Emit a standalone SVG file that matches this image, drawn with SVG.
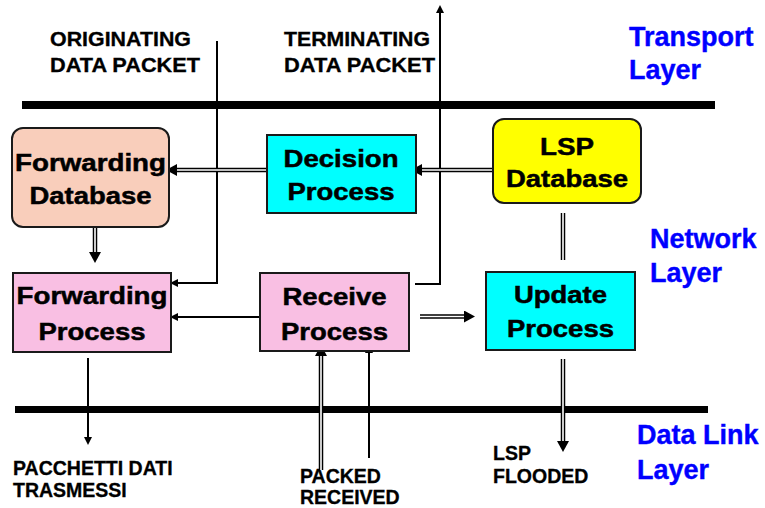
<svg xmlns="http://www.w3.org/2000/svg" width="765" height="508" viewBox="0 0 765 508">
<style>
  .box { stroke:#1a1a1a; stroke-width:2; }
  .nt { font-family:"Liberation Sans", Arial, sans-serif; font-weight:bold; font-size:24px; fill:#000; stroke:#000; stroke-width:0.5; text-anchor:middle; }
  .lbl { font-family:"Liberation Sans", Arial, sans-serif; font-weight:bold; font-size:19.5px; fill:#000; stroke:#000; stroke-width:0.3; }
  .layer { font-family:"Liberation Sans", Arial, sans-serif; font-weight:bold; font-size:27px; fill:#0000FF; stroke:#0000FF; stroke-width:0.4; }
  .bar { stroke:#000; stroke-width:8; }
  .single { fill:none; stroke:#000; stroke-width:2; }
  .dout { fill:none; stroke:#000; stroke-width:4.5; }
  .din { fill:none; stroke:#fff; stroke-width:1.6; }
</style>
<defs>
  <marker id="ahs" markerUnits="userSpaceOnUse" markerWidth="10" markerHeight="8" refX="0" refY="4" orient="auto">
    <path d="M0,0 L8,4 L0,8 z" fill="#000"/>
  </marker>
  <marker id="ahb" markerUnits="userSpaceOnUse" markerWidth="13" markerHeight="12" refX="0" refY="6" orient="auto">
    <path d="M0,0 L11,6 L0,12 z" fill="#000"/>
  </marker>
</defs>
<rect width="765" height="508" fill="#fff"/>

<g id="layers">
  <line class="bar" x1="22" y1="105" x2="715" y2="105"/>
  <line class="bar" x1="15" y1="409.5" x2="708" y2="409.5" style="stroke-width:7"/>
  <text class="layer" x="629" y="46">Transport</text>
  <text class="layer" x="629" y="79">Layer</text>
  <text class="layer" x="650" y="248">Network</text>
  <text class="layer" x="650" y="282">Layer</text>
  <text class="layer" x="637" y="444">Data Link</text>
  <text class="layer" x="637" y="479">Layer</text>
</g>

<g id="labels">
  <text class="lbl" x="50" y="46" textLength="141" lengthAdjust="spacingAndGlyphs">ORIGINATING</text>
  <text class="lbl" x="50" y="72" textLength="150" lengthAdjust="spacingAndGlyphs">DATA PACKET</text>
  <text class="lbl" x="284" y="46" textLength="146" lengthAdjust="spacingAndGlyphs">TERMINATING</text>
  <text class="lbl" x="284" y="72" textLength="151" lengthAdjust="spacingAndGlyphs">DATA PACKET</text>
  <text class="lbl" x="13" y="475">PACCHETTI DATI</text>
  <text class="lbl" x="13" y="497">TRASMESSI</text>
  <text class="lbl" x="300" y="483">PACKED</text>
  <text class="lbl" x="300" y="504">RECEIVED</text>
  <text class="lbl" x="493" y="460">LSP</text>
  <text class="lbl" x="493" y="483">FLOODED</text>
</g>

<g id="connectors">
  <!-- originating data packet -> forwarding process -->
  <path class="single" d="M217,41 V283 H178" marker-end="url(#ahs)"/>
  <!-- receive process -> terminating data packet -->
  <path class="single" d="M415,284 H440 V13" marker-end="url(#ahs)"/>
  <!-- receive -> forwarding process -->
  <path class="single" d="M264,317 H178" marker-end="url(#ahs)"/>
  <!-- forwarding process -> pacchetti -->
  <path class="single" d="M88,358 V437" marker-end="url(#ahs)"/>
  <!-- packed received (single) -->
  <path class="single" d="M369,458 V353" marker-end="url(#ahs)"/>

  <!-- LSP DB -> Decision -->
  <path class="dout" d="M493,170 H422" marker-end="url(#ahb)"/>
  <path class="din" d="M493,170 H422"/>
  <!-- Decision -> Forwarding DB -->
  <path class="dout" d="M274,170 H177" marker-end="url(#ahb)"/>
  <path class="din" d="M274,170 H177"/>
  <!-- Forwarding DB -> Forwarding Process -->
  <path class="dout" d="M95,228 V252" marker-end="url(#ahb)"/>
  <path class="din" d="M95,228 V252"/>
  <!-- Receive -> Update -->
  <path class="dout" d="M420,316.5 H464" marker-end="url(#ahb)"/>
  <path class="din" d="M420,316.5 H464"/>
  <!-- LSP DB - Update -->
  <path class="dout" d="M563,213 V260"/>
  <path class="din" d="M563,213 V260"/>
  <!-- Update -> LSP flooded -->
  <path class="dout" d="M563,359 V441" marker-end="url(#ahb)"/>
  <path class="din" d="M563,359 V441"/>
  <!-- packed received -> receive -->
  <path class="dout" d="M321,470 V356" marker-end="url(#ahb)"/>
  <path class="din" d="M321,470 V356"/>
</g>

<g id="forwarding-database">
  <rect class="box" x="12" y="128" width="157" height="99" rx="11" fill="#F9CEBB"/>
  <text class="nt" x="90.5" y="171" textLength="151" lengthAdjust="spacingAndGlyphs">Forwarding</text>
  <text class="nt" x="90.5" y="204" textLength="122" lengthAdjust="spacingAndGlyphs">Database</text>
</g>

<g id="decision-process">
  <rect class="box" x="267" y="135" width="149" height="78" fill="#00FFFF"/>
  <text class="nt" x="341" y="167" textLength="115" lengthAdjust="spacingAndGlyphs">Decision</text>
  <text class="nt" x="341" y="200" textLength="107" lengthAdjust="spacingAndGlyphs">Process</text>
</g>

<g id="lsp-database">
  <rect class="box" x="493" y="119" width="148" height="84" rx="11" fill="#FFFF00"/>
  <text class="nt" x="567" y="155" textLength="54" lengthAdjust="spacingAndGlyphs">LSP</text>
  <text class="nt" x="567" y="187" textLength="122" lengthAdjust="spacingAndGlyphs">Database</text>
</g>

<g id="forwarding-process">
  <rect class="box" x="13" y="273" width="158" height="79" fill="#F9BFE3"/>
  <text class="nt" x="92" y="304" textLength="151" lengthAdjust="spacingAndGlyphs">Forwarding</text>
  <text class="nt" x="92" y="340" textLength="107" lengthAdjust="spacingAndGlyphs">Process</text>
</g>

<g id="receive-process">
  <rect class="box" x="260" y="273" width="149" height="78" fill="#F9BFE3"/>
  <text class="nt" x="334.5" y="305" textLength="104" lengthAdjust="spacingAndGlyphs">Receive</text>
  <text class="nt" x="334.5" y="340" textLength="107" lengthAdjust="spacingAndGlyphs">Process</text>
</g>

<g id="update-process">
  <rect class="box" x="486" y="272" width="149" height="78" fill="#00FFFF"/>
  <text class="nt" x="560.5" y="303" textLength="93" lengthAdjust="spacingAndGlyphs">Update</text>
  <text class="nt" x="560.5" y="337" textLength="107" lengthAdjust="spacingAndGlyphs">Process</text>
</g>
</svg>
